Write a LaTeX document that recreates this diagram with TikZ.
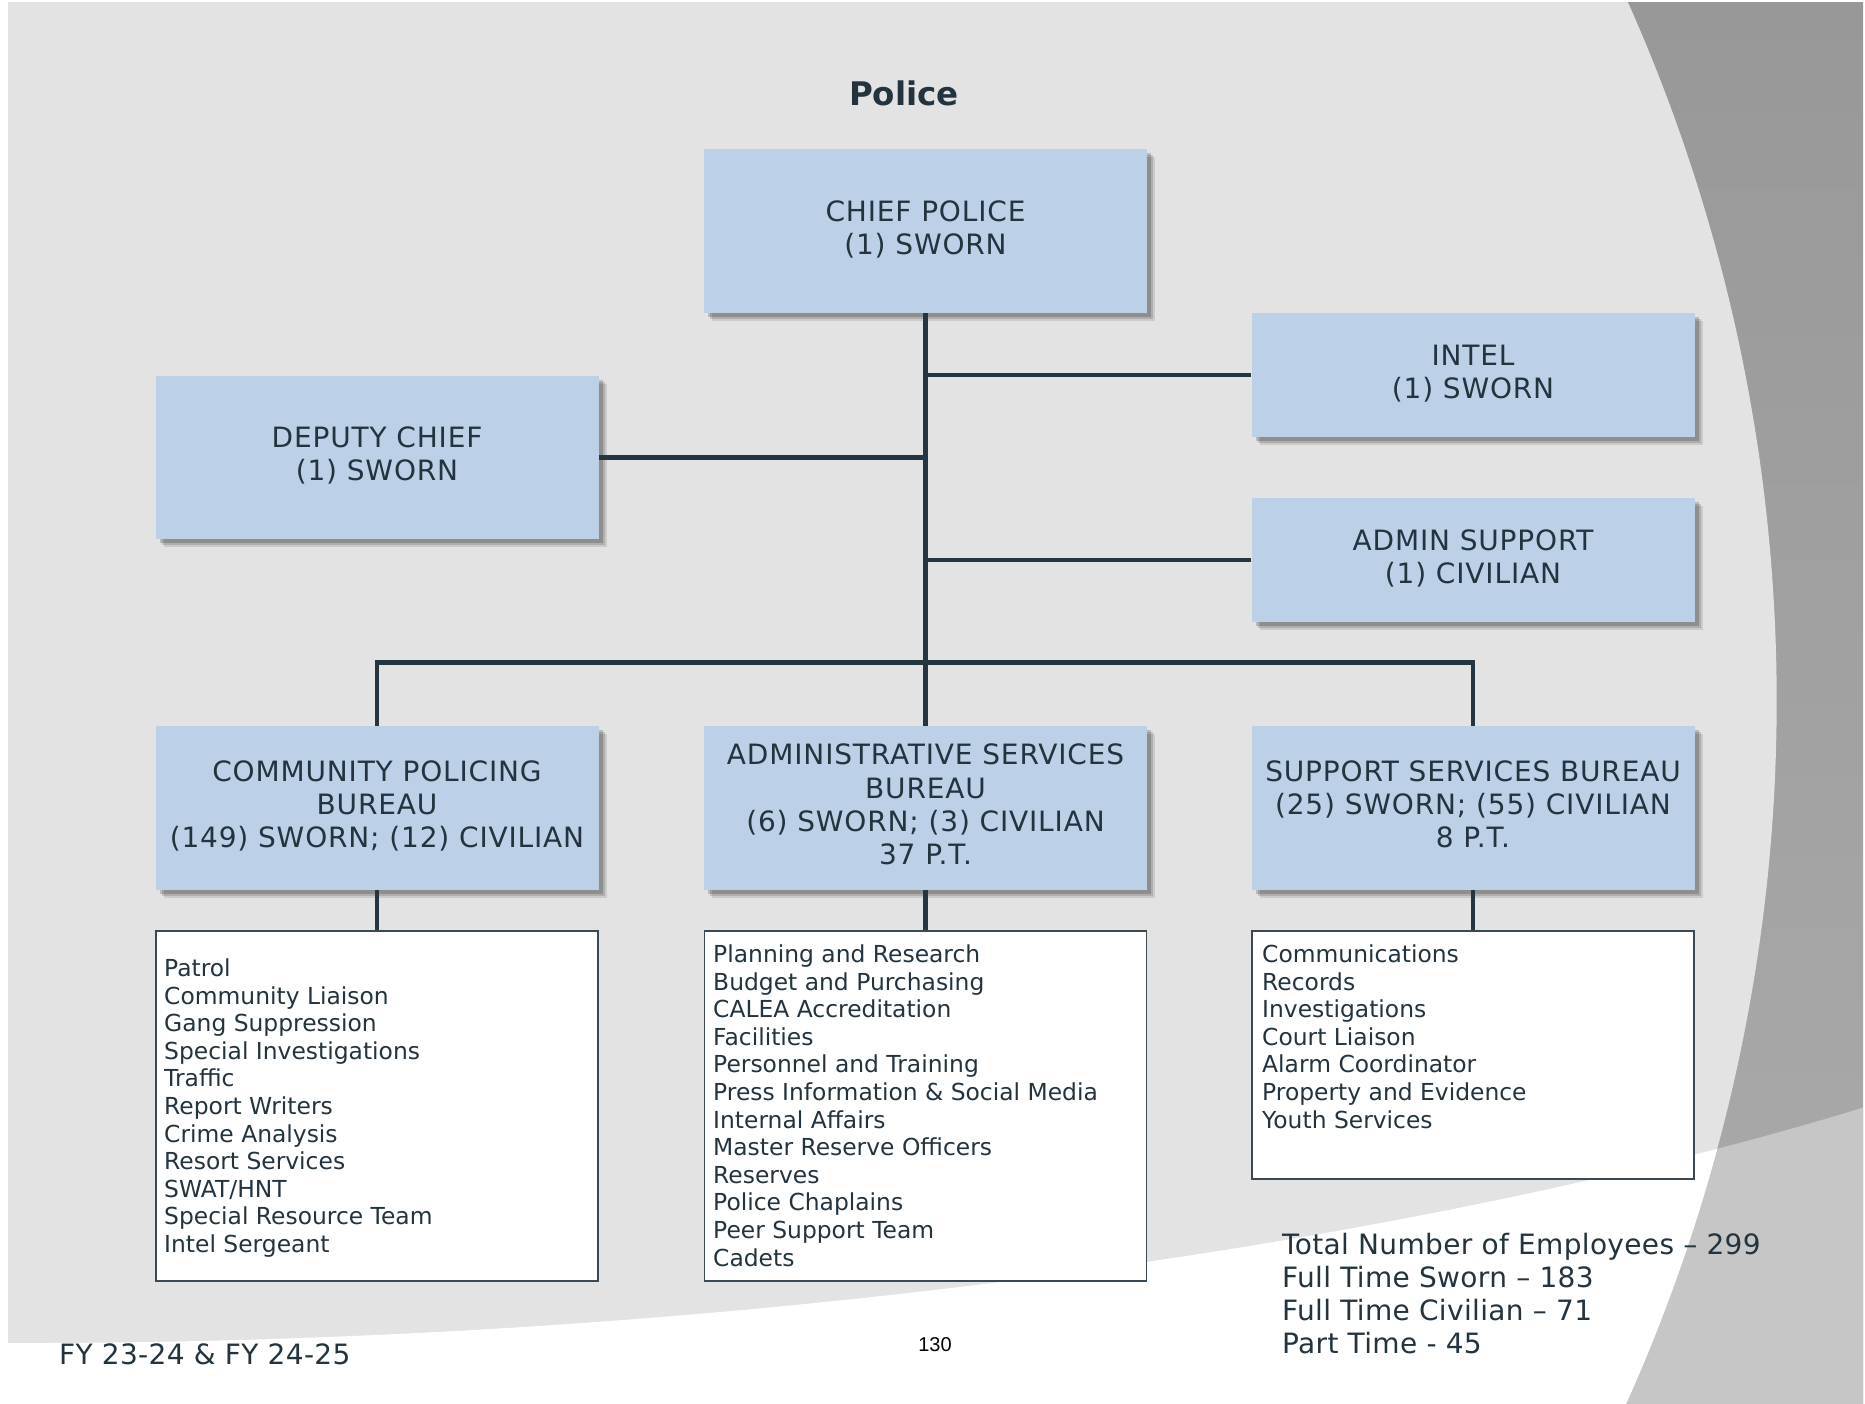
\documentclass[tikz,border=0pt]{standalone}
\usepackage{fontspec}
\setmainfont{DejaVu Sans}
\newfontfamily\boxfont[LetterSpace=3.0]{DejaVu Sans}
\newfontfamily\footfont[LetterSpace=1.2]{DejaVu Sans}
\newfontfamily\pagenumfont{Liberation Sans}
\usetikzlibrary{shadows}

\definecolor{bglight}{HTML}{E3E3E3}
\definecolor{bgtop}{HTML}{989898}
\definecolor{bgbot}{HTML}{ABABAB}
\definecolor{bgmid}{HTML}{C6C6C6}
\definecolor{boxblue}{HTML}{BCD0E8}
\definecolor{ink}{HTML}{23343F}
\definecolor{linkcol}{HTML}{243642}
\definecolor{listedge}{HTML}{3A4A55}

% centred and left-aligned line stacks with a fixed line pitch
\newcommand\orgstack[1]{\begin{tabular}{@{}c@{}}#1\end{tabular}}
\newcommand\orglist[1]{\begin{tabular}[t]{@{}l@{}}#1\end{tabular}}

\begin{document}
\begin{tikzpicture}[x=1pt,y=-1pt,
  softshadow/.style={
    drop shadow={shadow xshift=8pt, shadow yshift=-8pt, opacity=0.10, fill=black},
    drop shadow={shadow xshift=6pt, shadow yshift=-6pt, opacity=0.14, fill=black},
    drop shadow={shadow xshift=4pt, shadow yshift=-4pt, opacity=0.18, fill=black}},
  unit/.style={rectangle, fill=boxblue, minimum width=443pt, inner sep=0pt,
    font=\boxfont\fontsize{28}{33.3}\selectfont, text=ink, softshadow},
  listbox/.style={rectangle, fill=white, draw=listedge, line width=1.5pt,
    minimum width=442pt, inner sep=0pt},
  listtext/.style={anchor=base west, inner sep=0pt,
    font=\fontsize{23.4}{27.6}\selectfont, text=ink},
  plain/.style={inner sep=0pt, text=ink},
  link/.style={draw=linkcol, line width=4.5pt}]

\useasboundingbox (0,0) rectangle (1865,1403);

% ---- page background ----
\fill[white] (-5,-5) rectangle (1870,1410);
\begin{scope}
  \clip (8,2) rectangle (1863,1410);
  \shade[top color=bgtop, bottom color=bgbot] (8,2) rectangle (1863,1410);
  \fill[bgmid] (0,1343) .. controls (700,1345) and (1400,1250) .. (1865,1107)
    -- (1865,1410) -- (0,1410) -- cycle;
  \clip (0,-2) -- (1626,-2) arc[start angle=-24.2, end angle=24.2, radius=1715]
    -- (1620,1410) -- (0,1410) -- cycle;
  \fill[bglight] (0,0) rectangle (1865,1410);
  \fill[white] (0,1343) .. controls (700,1345) and (1400,1250) .. (1865,1107)
    -- (1865,1410) -- (0,1410) -- cycle;
\end{scope}

% ---- title ----
\node[plain, anchor=base, font=\bfseries\fontsize{32.5}{39}\selectfont] (title)
  at (904,105) {Police};

% ---- units ----
\node[unit, minimum height=164pt] (chief) at (925.5,231)
  {\orgstack{CHIEF POLICE\\(1) SWORN}};
\node[unit, minimum height=124pt] (intel) at (1473,375)
  {\orgstack{INTEL\\(1) SWORN}};
\node[unit, minimum height=163pt] (deputy) at (377,457.5)
  {\orgstack{DEPUTY CHIEF\\(1) SWORN}};
\node[unit, minimum height=124pt] (asup) at (1473,560)
  {\orgstack{ADMIN SUPPORT\\(1) CIVILIAN}};
\node[unit, minimum height=164pt] (cpl) at (377,808)
  {\orgstack{COMMUNITY POLICING\\BUREAU\\(149) SWORN; (12) CIVILIAN}};
\node[unit, minimum height=164pt] (asb) at (925.5,808)
  {\orgstack{ADMINISTRATIVE SERVICES\\BUREAU\\(6) SWORN; (3) CIVILIAN\\37 P.T.}};
\node[unit, minimum height=164pt] (ssb) at (1473,808)
  {\orgstack{SUPPORT SERVICES BUREAU\\(25) SWORN; (55) CIVILIAN\\8 P.T.}};

% ---- function lists ----
\node[listbox, minimum height=350pt] (cpllist) at (377,1106) {};
\node[listbox, minimum height=350pt] (asblist) at (925.5,1106) {};
\node[listbox, minimum height=248pt] (ssblist) at (1473,1055) {};

\node[listtext] (cplitems) at (164,976.5) {\orglist{Patrol\\Community Liaison\\Gang Suppression\\Special Investigations\\Traffic\\Report Writers\\Crime Analysis\\Resort Services\\SWAT/HNT\\Special Resource Team\\Intel Sergeant}};
\node[listtext] (asbitems) at (713,962.5) {\orglist{Planning and Research\\Budget and Purchasing\\CALEA Accreditation\\Facilities\\Personnel and Training\\Press Information \& Social Media\\Internal Affairs\\Master Reserve Officers\\Reserves\\Police Chaplains\\Peer Support Team\\Cadets}};
\node[listtext] (ssbitems) at (1262,962.5) {\orglist{Communications\\Records\\Investigations\\Court Liaison\\Alarm Coordinator\\Property and Evidence\\Youth Services}};

% ---- reporting lines ----
\coordinate (bus) at (925.5,662.5);
\draw[link] (chief.south) -- (asb.north);
\draw[link] (intel.west) -- (intel.west -| chief.south);
\draw[link] (deputy.east) -- (deputy.east -| chief.south);
\draw[link] (asup.west) -- (asup.west -| chief.south);
\draw[link] (cpl.north) |- (bus) -| (ssb.north);
\draw[link] (cpl.south) -- (cpllist.north);
\draw[link] (asb.south) -- (asblist.north);
\draw[link] (ssb.south) -- (ssblist.north);

% ---- footer ----
\node[plain, anchor=base west, font=\footfont\fontsize{28}{33.3}\selectfont] (totals)
  at (1282,1254) {\orglist{Total Number of Employees – 299\\Full Time Sworn – 183\\Full Time Civilian – 71\\Part Time - 45}};
\node[plain, anchor=base west, font=\footfont\fontsize{28}{33.3}\selectfont] (fy)
  at (59,1364) {FY 23-24 \& FY 24-25};
\node[inner sep=0pt, anchor=base, text=black, font=\pagenumfont\fontsize{20}{24}\selectfont] (page)
  at (935,1351) {130};
\end{tikzpicture}
\end{document}
